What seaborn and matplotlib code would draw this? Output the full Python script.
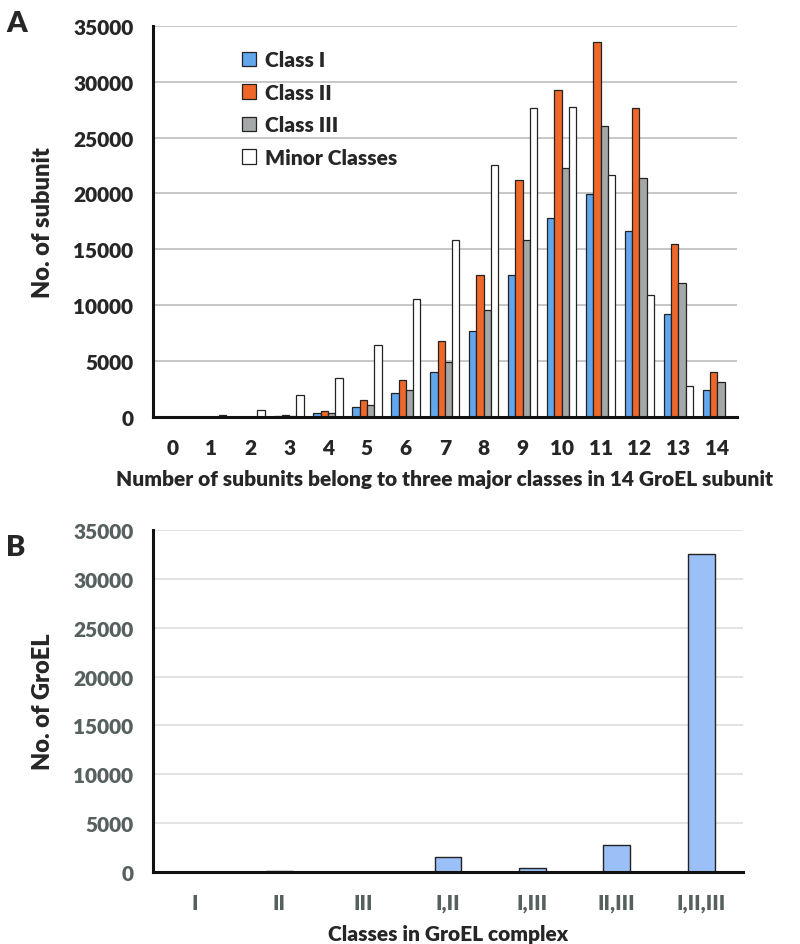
import pandas as pd
import seaborn as sns
from matplotlib import pyplot as plt

# panel A: number of subunits per class at each count of major-class subunits
counts = [str(i) for i in range(15)]
class_1 = [0, 0, 0, 60, 360, 900, 2100, 4050, 7720, 12690, 17810, 19930, 16680, 9170, 2380]
class_2 = [0, 0, 0, 210, 570, 1530, 3330, 6820, 12660, 21210, 29220, 33510, 27610, 15460, 4020]
class_3 = [0, 0, 0, 120, 360, 1050, 2430, 4920, 9590, 15790, 22310, 26060, 21360, 12000, 3100]
minor = [0, 180, 600, 1950, 3500, 6470, 10550, 15850, 22580, 27670, 27700, 21690, 10900, 2770, 0]
series_names = ["Class I", "Class II", "Class III", "Minor Classes"]
series_colors = ["#62a6ee", "#f0672a", "#a4a8a8", "#ffffff"]

# panel B: GroEL complexes by class composition
complex_classes = ["I", "II", "III", "I,II", "I,III", "II,III", "I,II,III"]
complex_counts = [0, 120, 0, 1570, 380, 2730, 32580]

sns.set_style("white")
plt.rcParams["font.family"] = ["Lato", "DejaVu Sans"]
plt.rcParams["font.weight"] = "heavy"

df = pd.DataFrame({
    "count": counts * 4,
    "value": class_1 + class_2 + class_3 + minor,
    "series": sum([[n] * len(counts) for n in series_names], []),
})

fig = plt.figure(figsize=(8, 9.45), dpi=100)
ax1 = fig.add_axes([0.191, 0.5577, 0.730, 0.414])
ax2 = fig.add_axes([0.191, 0.0762, 0.738, 0.3618])

sns.barplot(data=df, x="count", y="value", hue="series", order=counts,
            hue_order=series_names, palette=dict(zip(series_names, series_colors)),
            width=0.75, edgecolor="#222222", linewidth=0.9, saturation=1,
            ax=ax1)
sns.barplot(x=complex_classes, y=complex_counts, color="#9bbff7", width=0.32,
            edgecolor="#222222", linewidth=1.0, saturation=1, ax=ax2)

for ax, gridc in [(ax1, "#bdbdbd"), (ax2, "#dedede")]:
    ax.set_ylim(0, 35000)
    ax.set_yticks(range(0, 35001, 5000))
    ax.yaxis.grid(True, color=gridc, linewidth=1.2)
    ax.set_axisbelow(True)
    sns.despine(ax=ax)
    for s in ("left", "bottom"):
        ax.spines[s].set_linewidth(2.2)
        ax.spines[s].set_color("#111111")
    ax.tick_params(length=0, labelsize=15)
    ax.tick_params(axis="y", pad=14)
    for lbl in ax.get_xticklabels() + ax.get_yticklabels():
        lbl.set_fontweight("heavy")

ax1.tick_params(axis="x", pad=15)
ax1.set_xlabel("Number of subunits belong to three major classes in 14 GroEL subunit",
               fontsize=15, fontweight="heavy", labelpad=9)
ax1.set_ylabel("No. of subunit", fontsize=17, fontweight="heavy", labelpad=14)
leg = ax1.legend(loc="upper left", bbox_to_anchor=(0.12, 0.985), frameon=False,
                 fontsize=15, handlelength=0.7, handleheight=0.7,
                 labelspacing=0.65, handletextpad=0.4)
for t in leg.get_texts():
    t.set_fontweight("heavy")

ax2.tick_params(axis="x", pad=15)
ax2.tick_params(labelcolor="#56605f")
ax2.set_xlabel("Classes in GroEL complex", fontsize=15, fontweight="heavy", labelpad=9)
ax2.set_ylabel("No. of GroEL", fontsize=17, fontweight="heavy", labelpad=14)

fig.text(0.008, 0.975, "A", fontsize=21, fontweight="heavy", va="center")
fig.text(0.008, 0.42, "B", fontsize=21, fontweight="heavy", va="center")

fig.savefig("out.png", dpi=100)
